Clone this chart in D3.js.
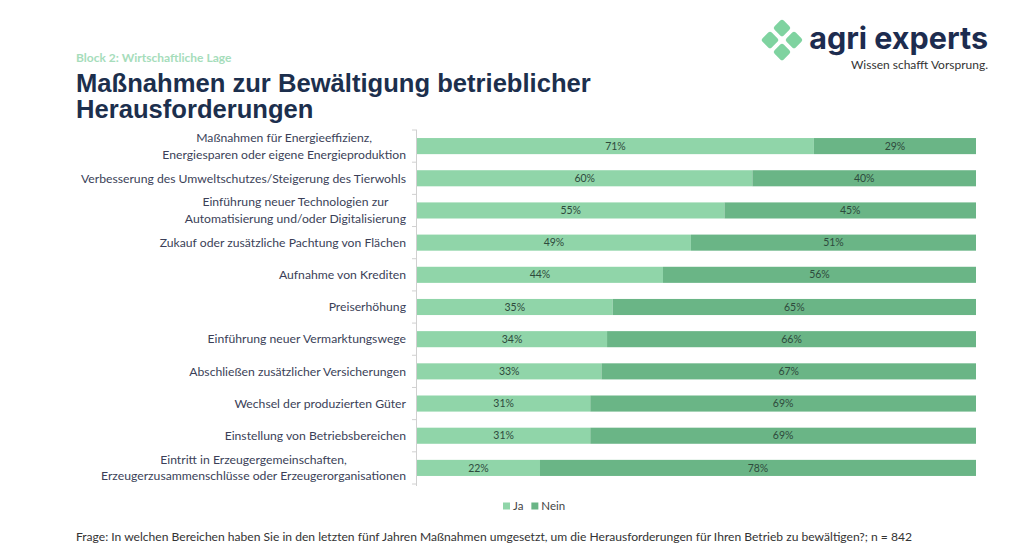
<!DOCTYPE html>
<html>
<head>
<meta charset="utf-8">
<script src="https://cdn.jsdelivr.net/npm/d3@7"></script>
<style>
  body { margin: 0; background: #fff; }
  svg { display: block; }
</style>
</head>
<body>
<div id="chart"></div>
<script>
// Kategorien (von oben nach unten)
const categories = [
  ["Maßnahmen für Energieeffizienz,", "Energiesparen oder eigene Energieproduktion"],
  ["Verbesserung des Umweltschutzes/Steigerung des Tierwohls"],
  ["Einführung neuer Technologien zur", "Automatisierung und/oder Digitalisierung"],
  ["Zukauf oder zusätzliche Pachtung von Flächen"],
  ["Aufnahme von Krediten"],
  ["Preiserhöhung"],
  ["Einführung neuer Vermarktungswege"],
  ["Abschließen zusätzlicher Versicherungen"],
  ["Wechsel der produzierten Güter"],
  ["Einstellung von Betriebsbereichen"],
  ["Eintritt in Erzeugergemeinschaften,", "Erzeugerzusammenschlüsse oder Erzeugerorganisationen"]
];
const ja   = [71, 60, 55, 49, 44, 35, 34, 33, 31, 31, 22];
const nein = [29, 40, 45, 51, 56, 65, 66, 67, 69, 69, 78];
const seriesNames = ["Ja", "Nein"];
const seriesColors = ["#90d5a9", "#6ab586"];

const W = 1024, H = 553;
const svg = d3.select("#chart").append("svg")
  .attr("width", W).attr("height", H);

// --- Kopfbereich ---
svg.append("text")
  .attr("x", 76).attr("y", 62)
  .style("font-family", "Lato, sans-serif")
  .style("font-weight", "700").style("font-size", "12px")
  .style("fill", "#a6ddbb")
  .text("Block 2: Wirtschaftliche Lage");

const title = svg.append("text")
  .style("font-family", "'Liberation Sans', Arial, sans-serif")
  .style("font-weight", "700").style("font-size", "25.6px")
  .style("fill", "#1c2f4d");
title.append("tspan").attr("x", 76).attr("y", 92).text("Maßnahmen zur Bewältigung betrieblicher");
title.append("tspan").attr("x", 76).attr("y", 118).text("Herausforderungen");

// Logo
const logo = svg.append("g").attr("transform", "translate(782,40)");
[[0, -12], [-12, 0], [12, 0], [0, 12]].forEach(([dx, dy]) => {
  logo.append("rect")
    .attr("x", -6.5).attr("y", -6.5).attr("width", 13).attr("height", 13)
    .attr("rx", 2.5)
    .attr("transform", `translate(${dx},${dy}) rotate(45)`)
    .attr("fill", "#7fd3a0");
});
svg.append("text")
  .attr("x", 988).attr("y", 49).attr("text-anchor", "end")
  .style("font-family", "Inter, Lato, sans-serif")
  .style("font-weight", "700").style("font-size", "30.5px")
  .style("fill", "#1d2c4f")
  .text("agri experts");
svg.append("text")
  .attr("x", 988).attr("y", 69).attr("text-anchor", "end")
  .style("font-family", "Lato, sans-serif")
  .style("font-size", "12px")
  .style("fill", "#333")
  .text("Wissen schafft Vorsprung.");

// --- Diagramm ---
const x0 = 417, x1 = 976, yTop = 130, yBot = 484;

const y = d3.scaleBand()
  .domain(d3.range(categories.length))
  .range([yTop, yBot])
  .paddingInner(0.5).paddingOuter(0.25);

const x = d3.scaleLinear().domain([0, 100]).range([x0, x1]);

const color = d3.scaleOrdinal().domain(seriesNames).range(seriesColors);

const rows = categories.map((c, i) => ({ i, lines: c, Ja: ja[i], Nein: nein[i] }));
const stack = d3.stack().keys(seriesNames)(rows);

// Achse links: Linie + Ticks zwischen Kategorien
const gAxis = svg.append("g");
gAxis.append("line")
  .attr("x1", x0 - 0.5).attr("x2", x0 - 0.5)
  .attr("y1", yTop).attr("y2", yBot + 2)
  .attr("stroke", "#d0d0d0");
d3.range(categories.length + 1).forEach(k => {
  const yy = yTop + k * (yBot - yTop) / categories.length;
  gAxis.append("line")
    .attr("x1", x0 - 5).attr("x2", x0)
    .attr("y1", yy).attr("y2", yy)
    .attr("stroke", "#d0d0d0");
});

// Balken
const layers = svg.selectAll("g.layer")
  .data(stack).enter().append("g")
  .attr("class", "layer")
  .attr("fill", d => color(d.key));

layers.selectAll("rect")
  .data(d => d)
  .enter().append("rect")
  .attr("x", d => x(d[0]))
  .attr("y", d => y(d.data.i))
  .attr("width", d => x(d[1]) - x(d[0]))
  .attr("height", y.bandwidth());

// Werte in den Balken
layers.selectAll("text")
  .data(d => d)
  .enter().append("text")
  .attr("x", d => (x(d[0]) + x(d[1])) / 2)
  .attr("y", d => y(d.data.i) + y.bandwidth() / 2)
  .attr("dy", "0.35em")
  .attr("text-anchor", "middle")
  .style("font-family", "Lato, sans-serif")
  .style("font-size", "10.5px")
  .style("fill", "#2e4a3c")
  .text(d => (d[1] - d[0]) + "%");

// Kategorie-Beschriftungen
const labels = svg.selectAll("text.cat")
  .data(rows).enter().append("text")
  .attr("class", "cat")
  .style("font-family", "Lato, sans-serif")
  .style("font-size", "12.2px")
  .style("fill", "#3b3f58");
labels.each(function(d) {
  const t = d3.select(this);
  const cy = y(d.i) + y.bandwidth() / 2;
  const n = d.lines.length;
  d.lines.forEach((line, j) => {
    t.append("tspan")
      .attr("x", 406)
      .attr("y", cy + (j - (n - 1) / 2) * 16.5)
      .attr("dy", "0.35em")
      .attr("text-anchor", n > 1 ? "middle" : "end")
      .text(line);
  });
});
// mehrzeilige Labels: zentriert auf den Block, rechtsbündig am längsten
labels.filter(d => d.lines.length > 1).each(function() {
  const spans = d3.select(this).selectAll("tspan");
  let maxW = 0;
  spans.each(function() { maxW = Math.max(maxW, this.getComputedTextLength()); });
  spans.attr("x", 406 - maxW / 2);
});
labels.filter(d => d.lines.length === 1).attr("text-anchor", "end");

// Legende
const legend = svg.append("g").attr("transform", "translate(503,506)");
let lx = 0;
seriesNames.forEach(name => {
  const g = legend.append("g").attr("transform", `translate(${lx},0)`);
  g.append("rect").attr("x", 0).attr("y", -3.5).attr("width", 7).attr("height", 7)
    .attr("fill", color(name));
  const t = g.append("text").attr("x", 10).attr("dy", "0.35em")
    .style("font-family", "Lato, sans-serif")
    .style("font-size", "11.5px").style("fill", "#444")
    .text(name);
  lx += 10 + t.node().getComputedTextLength() + 8;
});

// Fußnote
svg.append("text")
  .attr("x", 76).attr("y", 541)
  .attr("textLength", 836).attr("lengthAdjust", "spacingAndGlyphs")
  .style("font-family", "Lato, sans-serif")
  .style("font-size", "11px").style("fill", "#333")
  .text("Frage: In welchen Bereichen haben Sie in den letzten fünf Jahren Maßnahmen umgesetzt, um die Herausforderungen für Ihren Betrieb zu bewältigen?; n = 842");
</script>
</body>
</html>
